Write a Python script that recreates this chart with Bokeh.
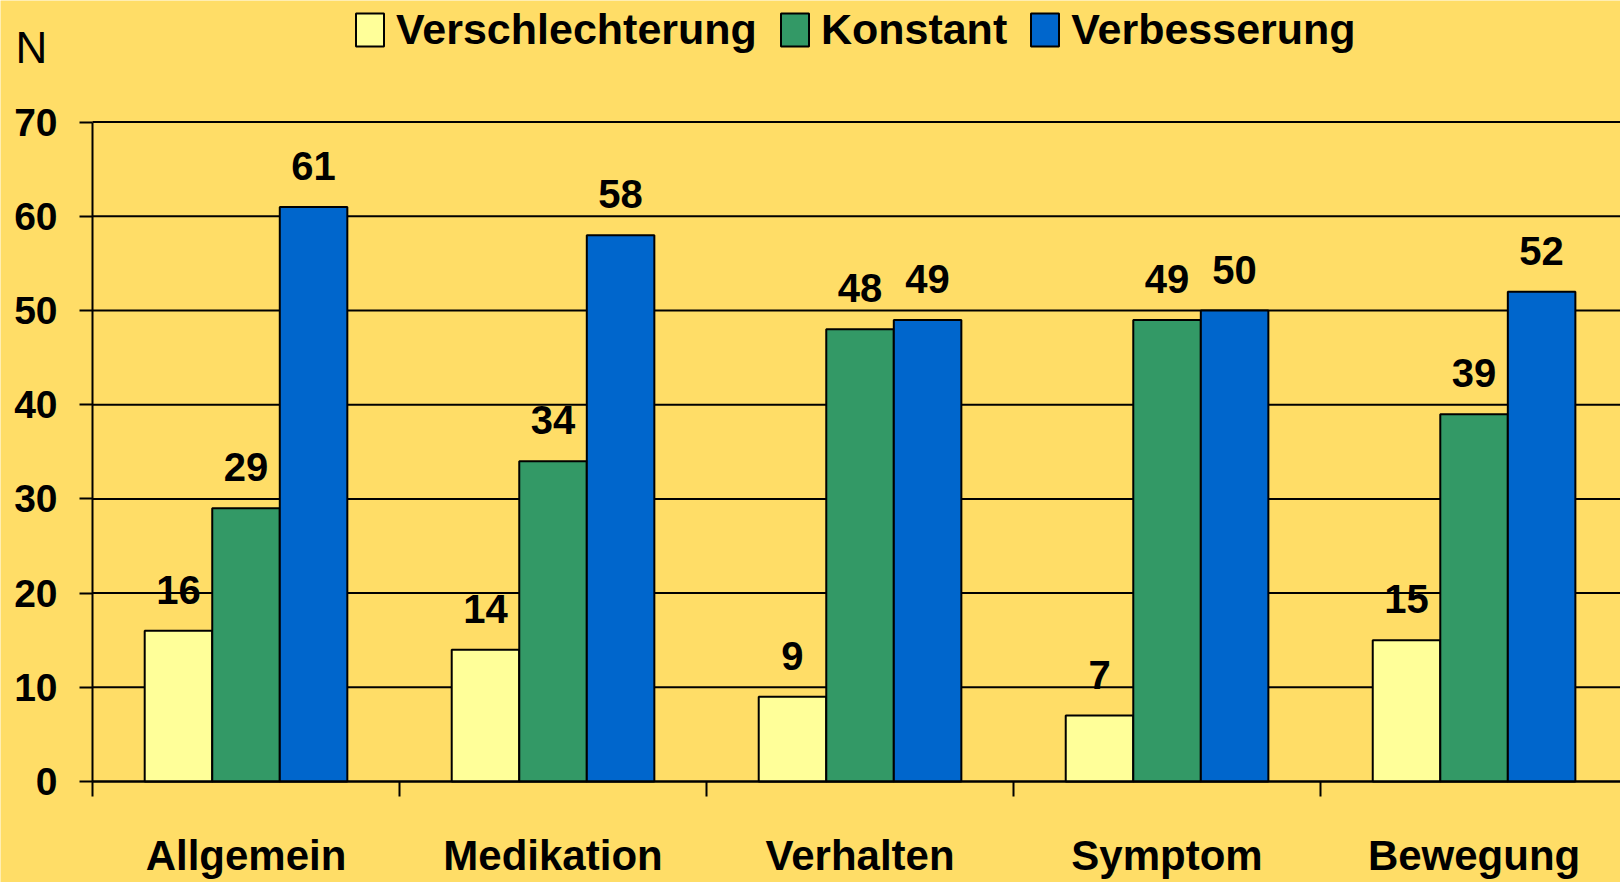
from bokeh.plotting import figure
from bokeh.models import ColumnDataSource, FixedTicker, Legend, LegendItem, Label
from bokeh.core.properties import value
from bokeh.embed import file_html
from bokeh.resources import INLINE

categories = ["Allgemein", "Medikation", "Verhalten", "Symptom", "Bewegung"]
series_names = ["Verschlechterung", "Konstant", "Verbesserung"]
verschlechterung = [16, 14, 9, 7, 15]
konstant = [29, 34, 48, 49, 39]
verbesserung = [61, 58, 49, 50, 52]
y_ticks = [0, 10, 20, 30, 40, 50, 60, 70]

colors = ["#FFFF99", "#339966", "#0066CC"]
bg = "#FFDD67"
FONT = "Liberation Sans"

bar_w = 0.22
offsets = [-bar_w, 0.0, bar_w]
n_cat = len(categories)

p = figure(width=1620, height=882, output_backend="svg", toolbar_location=None,
           x_range=(-0.2997, 4.977), y_range=(-10.72, 82.91),
           min_border_left=0, min_border_right=0, min_border_top=0, min_border_bottom=0)
p.background_fill_color = bg
p.border_fill_color = bg
p.outline_line_color = None
p.xgrid.visible = False
p.ygrid.visible = False

# horizontal grid lines (only across the plot area, from the y axis rightwards)
p.segment(x0=[0] * len(y_ticks), x1=[n_cat] * len(y_ticks), y0=y_ticks, y1=y_ticks,
          line_color="black", line_width=2)

renderers = []
for vals, off, col in zip([verschlechterung, konstant, verbesserung], offsets, colors):
    xs = [i + 0.5 + off for i in range(n_cat)]
    src = ColumnDataSource(dict(x=xs, top=vals, lbl=[str(v) for v in vals]))
    r = p.vbar(x="x", top="top", bottom=0, width=bar_w, source=src,
               fill_color=col, line_color="black", line_width=2)
    renderers.append(r)
    p.text(x="x", y="top", text="lbl", source=src, text_align="center",
           text_baseline="alphabetic", y_offset=-41,
           text_font=value(FONT), text_font_style="bold", text_font_size="40px",
           text_color="black")

# y axis fixed at x = 0
p.yaxis.fixed_location = 0
p.yaxis.bounds = (0, 70)
p.yaxis.ticker = FixedTicker(ticks=y_ticks)
p.yaxis.axis_line_color = "black"
p.yaxis.axis_line_width = 2
p.yaxis.major_tick_line_width = 2
p.yaxis.major_tick_out = 13
p.yaxis.major_tick_in = 0
p.yaxis.minor_tick_line_color = None
p.yaxis.major_label_standoff = 22
p.yaxis.major_label_text_font = FONT
p.yaxis.major_label_text_font_style = "bold"
p.yaxis.major_label_text_font_size = "39px"
p.yaxis.major_label_text_color = "black"

# x axis fixed at y = 0: labels at centres, ticks at category boundaries (minor ticks)
centers = [i + 0.5 for i in range(n_cat)]
p.xaxis.fixed_location = 0
p.xaxis.bounds = (0, n_cat)
p.xaxis.ticker = FixedTicker(ticks=centers, minor_ticks=list(range(n_cat + 1)))
p.xaxis.major_label_overrides = {c: name for c, name in zip(centers, categories)}
p.xaxis.axis_line_color = "black"
p.xaxis.axis_line_width = 2
p.xaxis.major_tick_line_color = None
p.xaxis.major_tick_out = 0
p.xaxis.major_tick_in = 0
p.xaxis.minor_tick_line_color = "black"
p.xaxis.minor_tick_line_width = 2
p.xaxis.minor_tick_out = 15
p.xaxis.minor_tick_in = 0
p.xaxis.major_label_standoff = 35
p.xaxis.major_label_text_font = FONT
p.xaxis.major_label_text_font_style = "bold"
p.xaxis.major_label_text_font_size = "42px"
p.xaxis.major_label_text_color = "black"

legend = Legend(items=[LegendItem(label=n, renderers=[r]) for n, r in zip(series_names, renderers)],
                orientation="horizontal", location=(352, 828),
                glyph_width=35, glyph_height=41, label_standoff=9, spacing=20,
                padding=0, margin=0, border_line_color=None, background_fill_alpha=0,
                label_text_font=FONT, label_text_font_style="bold",
                label_text_font_size="43px", label_text_color="black")
p.add_layout(legend, "center")

p.add_layout(Label(x=15, y=835, x_units="screen", y_units="screen", text="N",
                   text_font=FONT, text_font_size="44px", text_color="black",
                   text_baseline="alphabetic"))

open("out.html", "w").write(file_html(p, INLINE))
